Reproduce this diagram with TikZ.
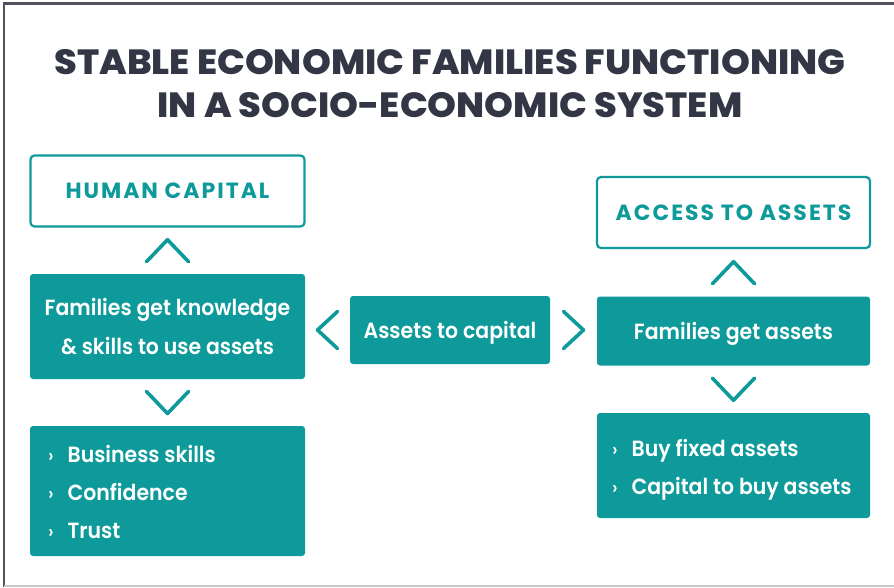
\documentclass[tikz,border=0pt]{standalone}
\usepackage{fontspec}
\setmainfont{Poppins}
\newfontfamily\titlefont{Poppins ExtraBold}[FakeStretch=1.05]
\newfontfamily\headfont{Poppins Bold}[LetterSpace=9]
\newfontfamily\bodyfont{Poppins SemiBold}[FakeStretch=0.93]
\newfontfamily\bulfont{Poppins Medium}
\usetikzlibrary{calc}
\definecolor{tealc}{RGB}{14,154,154}
\definecolor{titlegray}{RGB}{51,54,69}
\definecolor{framegray}{RGB}{80,82,94}
\definecolor{bottomgray}{RGB}{200,200,200}
\newcommand{\bul}{{\bulfont\fontsize{19}{38}\selectfont›}\hspace{14pt}}
\tikzset{
  fillbox/.style={fill=tealc, rounded corners=3pt, inner sep=0pt, text=white},
  outbox/.style={draw=tealc, line width=2.2pt, rounded corners=4pt, fill=white, inner sep=0pt, text=tealc,
    font=\headfont\fontsize{22}{24}\selectfont},
  chev/.style={draw=tealc, line width=3.6pt, line cap=round, line join=round},
  bodytext/.style={text=white, align=center, inner sep=0pt, font=\bodyfont\fontsize{22}{39}\selectfont},
  listtext/.style={text=white, align=left, inner sep=0pt, anchor=west, font=\bodyfont\fontsize{22}{38}\selectfont}
}
\begin{document}
\begin{tikzpicture}[x=1pt,y=-1pt]
\useasboundingbox (0,0) rectangle (894,587);
\fill[white] (0,0) rectangle (894,587);
\draw[framegray, line width=2.2pt] (4,587) -- (4,3.5) -- (894,3.5);
\draw[bottomgray, line width=1.5pt] (4,586) -- (894,586);

\node[text=titlegray, align=center, inner sep=0pt, font=\titlefont\fontsize{35}{43}\selectfont] (title) at (450,83.5)
  {STABLE ECONOMIC FAMILIES FUNCTIONING\\IN A SOCIO-ECONOMIC SYSTEM};

% left column
\node[outbox, minimum width=274pt, minimum height=71pt] (hc) at (167.5,191) {HUMAN CAPITAL};
\node[fillbox, minimum width=275pt, minimum height=105pt] (fam) at (167.5,326.5) {};
\node[bodytext] (famt) at (fam.center) {Families get knowledge\\\& skills to use assets};
\node[fillbox, minimum width=275pt, minimum height=130pt] (bl) at (167.5,491) {};
\node[listtext] (blt) at ([xshift=18pt,yshift=-1pt]bl.west) {\bul Business skills\\ \bul Confidence\\ \bul Trust};

% middle
\node[fillbox, minimum width=200pt, minimum height=68pt] (atc) at (450,330) {};
\node[bodytext] (atct) at ([yshift=-3pt]atc.center) {Assets to capital};

% right column
\node[outbox, minimum width=273pt, minimum height=71pt] (acc) at (733.5,212.5) {ACCESS TO ASSETS};
\node[fillbox, minimum width=273pt, minimum height=69pt] (fga) at (733.5,331) {};
\node[bodytext] (fgat) at ([yshift=-3pt]fga.center) {Families get assets};
\node[fillbox, minimum width=273pt, minimum height=105pt] (br) at (733.5,465.5) {};
\node[listtext] (brt) at ([xshift=15pt,yshift=-4pt]br.west) {\bul Buy fixed assets\\ \bul Capital to buy assets};

% chevrons
\coordinate (c1) at ($(hc.south)!0.5!(fam.north)$);
\draw[chev] ([xshift=-21pt,yshift=-11pt]c1) -- ([yshift=11pt]c1) -- ([xshift=21pt,yshift=-11pt]c1);
\coordinate (c2) at ($(fam.south)!0.5!(bl.north)$);
\draw[chev] ([xshift=-21pt,yshift=11pt]c2) -- ([yshift=-11pt]c2) -- ([xshift=21pt,yshift=11pt]c2);
\coordinate (c3) at ($(acc.south)!0.5!(fga.north)$);
\draw[chev] ([xshift=-21pt,yshift=-11pt]c3) -- ([yshift=11pt]c3) -- ([xshift=21pt,yshift=-11pt]c3);
\coordinate (c4) at ($(fga.south)!0.5!(br.north)$);
\draw[chev] ([xshift=-21pt,yshift=11pt]c4) -- ([yshift=-11pt]c4) -- ([xshift=21pt,yshift=11pt]c4);
\coordinate (c5) at ($(fam.east |- atc.west)!0.5!(atc.west)$);
\draw[chev] ([xshift=10pt,yshift=18.5pt]c5) -- ([xshift=-10pt]c5) -- ([xshift=10pt,yshift=-18.5pt]c5);
\coordinate (c6) at ($(atc.east)!0.5!(fga.west |- atc.east)$);
\draw[chev] ([xshift=-10pt,yshift=18.5pt]c6) -- ([xshift=10pt]c6) -- ([xshift=-10pt,yshift=-18.5pt]c6);
\end{tikzpicture}
\end{document}
